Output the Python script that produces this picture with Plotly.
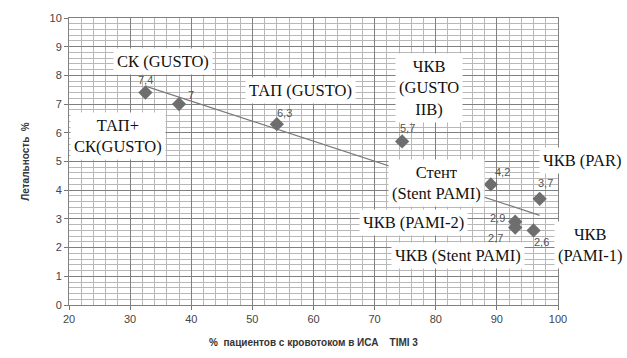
import numpy as np
import plotly.graph_objects as go

# Data
timi3_pct = [32.5, 38, 54, 74.5, 89, 97, 93, 93, 96]
mortality = [7.4, 7.0, 6.3, 5.7, 4.2, 3.7, 2.9, 2.7, 2.6]
x_ticks = [20, 30, 40, 50, 60, 70, 80, 90, 100]
y_ticks = list(range(0, 11))

study_labels = ["СК (GUSTO)", "ТАП+<br>СК(GUSTO)", "ТАП (GUSTO)", "ЧКВ<br>(GUSTO<br>IIB)",
                "ЧКВ (PAR)", "Стент<br>(Stent PAMI)", "ЧКВ (PAMI-2)", "ЧКВ (Stent PAMI)",
                "ЧКВ<br>(PAMI-1)"]
# positions in paper fractions of the plot area
study_label_pos = [(0.193, 0.850), (0.100, 0.589), (0.474, 0.746), (0.736, 0.757), (1.049, 0.505),
                   (0.752, 0.426), (0.704, 0.286), (0.795, 0.171), (1.065, 0.209)]
value_label_shift = [(0, 13), (12, 9), (8, 11), (5, 13), (12, 12), (6, 16), (-18, 4), (-20, -10), (8, -12)]

# Linear trend
k, b = np.polyfit(timi3_pct, mortality, 1)
tx = [min(timi3_pct), max(timi3_pct)]
ty = [k * v + b for v in tx]

fig = go.Figure()
fig.add_trace(go.Scatter(x=tx, y=ty, mode="lines", line=dict(color="#7a7a7a", width=1.2),
                         hoverinfo="skip", showlegend=False))
fig.add_trace(go.Scatter(x=timi3_pct, y=mortality, mode="markers",
                         marker=dict(symbol="diamond", size=11, color="#6e6e6e"),
                         showlegend=False, cliponaxis=False))

ann = []
for (xv, yv), (dx, dy) in zip(zip(timi3_pct, mortality), value_label_shift):
    lbl = f"{yv:.1f}".replace(".", ",") if yv != round(yv) else f"{int(yv)}"
    ann.append(dict(x=xv, y=yv, xref="x", yref="y", text=lbl,
                    showarrow=False, xshift=dx, yshift=dy,
                    font=dict(family="Liberation Sans, Arial", size=11, color="#555")))
for txt, (xv, yv) in zip(study_labels, study_label_pos):
    ann.append(dict(x=xv, y=yv, xref="paper", yref="paper", text=txt, showarrow=False,
                    xanchor="center", yanchor="middle",
                    bgcolor="white", borderpad=3,
                    font=dict(family="Liberation Serif, Times New Roman", size=16.5, color="#111")))

fig.update_layout(
    width=627, height=358,
    margin=dict(l=69, r=69, t=18, b=53),
    paper_bgcolor="white", plot_bgcolor="white",
    annotations=ann,
    xaxis=dict(range=[20, 100], tickvals=x_ticks, showgrid=True, gridcolor="#808080", gridwidth=1,
               minor=dict(dtick=2, showgrid=True, gridcolor="#b8b8b8", gridwidth=1),
               zeroline=False, showline=True, linecolor="#808080", mirror=True,
               ticks="outside", ticklen=4, tickcolor="#777",
               tickfont=dict(family="Liberation Sans, Arial", size=11, color="#444"),
               title=dict(text="%  пациентов с кровотоком в ИСА    TIMI 3", standoff=14,
                          font=dict(family="Liberation Sans, Arial", size=10, color="#333", weight="bold"))),
    yaxis=dict(range=[0, 10], tickvals=y_ticks, showgrid=True, gridcolor="#808080", gridwidth=1,
               minor=dict(dtick=0.2, showgrid=True, gridcolor="#b8b8b8", gridwidth=1),
               zeroline=False, showline=True, linecolor="#808080", mirror=True,
               ticks="outside", ticklen=4, tickcolor="#777",
               tickfont=dict(family="Liberation Sans, Arial", size=11, color="#444"),
               title=dict(text="Летальность  %", standoff=18,
                          font=dict(family="Liberation Sans, Arial", size=10, color="#333", weight="bold"))),
)

fig.write_html("out.html", config={"displayModeBar": False},
               post_script="document.body.style.margin='0';document.body.style.padding='0';")
